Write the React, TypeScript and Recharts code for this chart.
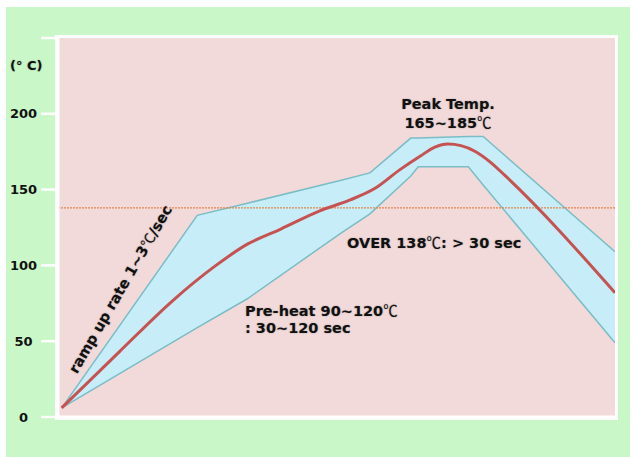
import { ComposedChart, Area, Line, XAxis, YAxis, ReferenceLine, CartesianGrid } from "recharts";

// process window (x = seconds, y = deg C)
const bandTimes = [2, 75, 102, 152, 168, 190, 194, 221, 229, 300];
const upperTemp = [6, 133, 141, 156, 161, 184, 184, 185, 185, 109];
const lowerTemp = [6, 59, 78, 121, 134, 159, 165, 165, 153, 49];

// typical profile
const curveTimes = [2, 33, 62, 84, 102, 120, 141, 157, 171, 184, 195, 203, 210, 217, 225, 233, 241, 300];
const curveTemp = [6, 43, 77, 99, 114, 124, 136, 143, 151, 163, 172, 178, 180, 179, 175, 168, 159, 82];

const yTicks = [0, 50, 100, 150, 200, 250];
const yTickLabels = ["0", "50", "100", "150", "200", ""];
const liquidus = 138;

const bandData = bandTimes.map((t, i) => ({ t, band: [lowerTemp[i], upperTemp[i]] }));
const curveData = curveTimes.map((t, i) => ({ t, temp: curveTemp[i] }));

const FONT = "'DejaVu Sans', sans-serif";
const textStyle: React.CSSProperties = {
  position: "absolute",
  fontFamily: FONT,
  fontWeight: 700,
  fontSize: 14.5,
  lineHeight: "17px",
  color: "#111",
  whiteSpace: "nowrap",
  textShadow: "0 0 1.5px rgba(0,0,0,0.35)",
};
const degStyle: React.CSSProperties = { fontWeight: 400, fontFamily: "'Noto Sans CJK SC', sans-serif" };

const Deg = () => <span style={degStyle}>℃</span>;

const YTick = (props: any) => {
  const { y, payload } = props;
  const idx = yTicks.indexOf(payload.value);
  return (
    <text x={23.5} y={y} textAnchor="middle" dominantBaseline="central" fontFamily={FONT} fontWeight={700} fontSize={13} fill="#111">
      {yTickLabels[idx]}
    </text>
  );
};

export default function App() {
  return (
    <div style={{ position: "absolute", left: 0, top: 0, width: 630, height: 457, background: "#fff", overflow: "hidden" }}>
      <div style={{ position: "absolute", left: 6, top: 7, width: 624, height: 450, background: "#c9f7c8" }} />
      <div style={{ position: "absolute", left: 55, top: 35, width: 563, height: 385, background: "#fff" }} />
      <div style={{ position: "absolute", left: 0, top: 0 }}>
        <ComposedChart width={630} height={457} data={bandData} margin={{ top: 38, right: 15, bottom: 40, left: 0 }}>
          <CartesianGrid horizontal={false} vertical={false} fill="#f1dad9" />
          <XAxis type="number" dataKey="t" domain={[0, 300]} hide allowDataOverflow />
          <YAxis
            type="number"
            domain={[0, 250]}
            ticks={yTicks}
            width={58}
            tickSize={17}
            tick={<YTick />}
            tickLine={{ stroke: "#fff", strokeWidth: 2.5 }}
            axisLine={{ stroke: "#fff", strokeWidth: 3 }}
          />
          <Area
            type="linear"
            dataKey="band"
            stroke="#7bbcc6"
            strokeWidth={1.5}
            fill="#c7eef8"
            fillOpacity={1}
            isAnimationActive={false}
          />
          <ReferenceLine y={liquidus} stroke="#e2874e" strokeWidth={1.2} strokeDasharray="2 1" />
          <Line
            data={curveData}
            type="monotone"
            dataKey="temp"
            stroke="#c65352"
            strokeWidth={3}
            dot={false}
            activeDot={false}
            isAnimationActive={false}
          />
          <ReferenceLine y={0} stroke="#fff" strokeWidth={3} />
        </ComposedChart>
      </div>

      <div style={{ ...textStyle, left: 10, top: 58, fontSize: 13, lineHeight: "16px" }}>(° C)</div>
      <div style={{ ...textStyle, left: 448, top: 95.5, transform: "translateX(-50%)", textAlign: "center" }}>
        Peak Temp.
        <br />
        165~185<Deg />
      </div>
      <div style={{ ...textStyle, left: 347, top: 232.5 }}>
        OVER 138<Deg />: &gt; 30 sec
      </div>
      <div style={{ ...textStyle, left: 245, top: 300.5 }}>
        Pre-heat 90~120<Deg />
        <br />: 30~120 sec
      </div>
      <div style={{ ...textStyle, left: 120, top: 289, transform: "translate(-50%, -50%) rotate(-60deg)" }}>
        ramp up rate 1~3<Deg />/sec
      </div>
    </div>
  );
}
